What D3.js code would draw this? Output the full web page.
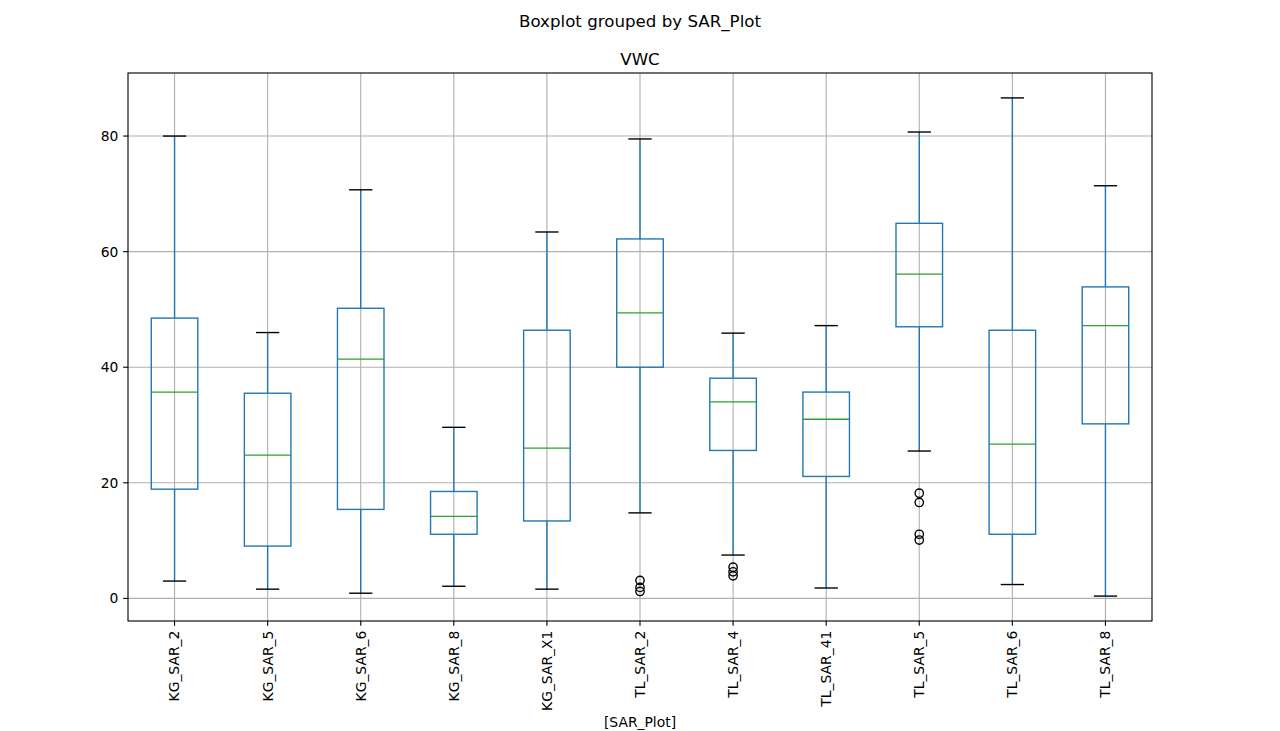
<!DOCTYPE html>
<html>
<head>
<meta charset="utf-8">
<script src="https://cdn.jsdelivr.net/npm/d3@7"></script>
<style>
  html, body { margin: 0; padding: 0; background: #fff; }
  svg { display: block; }
  text { font-family: "DejaVu Sans", sans-serif; fill: #000; }
</style>
</head>
<body>
<svg id="chart" width="1280" height="731"></svg>
<script>
// ---- data ----
const categories = ["KG_SAR_2","KG_SAR_5","KG_SAR_6","KG_SAR_8","KG_SAR_X1","TL_SAR_2","TL_SAR_4","TL_SAR_41","TL_SAR_5","TL_SAR_6","TL_SAR_8"];
const whiskerLow  = [3.0, 1.6, 0.9, 2.1, 1.6, 14.8, 7.5, 1.8, 25.5, 2.4, 0.4];
const q1          = [18.9, 9.05, 15.4, 11.1, 13.4, 40.0, 25.6, 21.1, 47.0, 11.1, 30.2];
const medians     = [35.7, 24.8, 41.4, 14.2, 26.0, 49.4, 34.0, 31.0, 56.1, 26.7, 47.2];
const q3          = [48.5, 35.5, 50.2, 18.5, 46.4, 62.2, 38.1, 35.7, 64.9, 46.4, 53.9];
const whiskerHigh = [80.0, 46.0, 70.7, 29.6, 63.4, 79.5, 45.9, 47.2, 80.7, 86.6, 71.4];
const outliers    = [[], [], [], [], [], [3.1, 1.9, 1.2], [5.4, 4.6, 3.9], [], [18.2, 16.6, 11.1, 10.1], [], []];
const yTicks = [0, 20, 40, 60, 80];
const title = "Boxplot grouped by SAR_Plot";
const subTitle = "VWC";
const xLabel = "[SAR_Plot]";

// ---- layout ----
const svg = d3.select("#chart");
const L = 128, R = 1152, T = 73, B = 621;

const x = d3.scaleLinear().domain([0.5, categories.length + 0.5]).range([L, R]);
const y = d3.scaleLinear().domain([-3.91, 90.91]).range([B, T]);
const step = x(2) - x(1);
const boxW = step * 0.5, capW = step * 0.25;

const BLUE = "#1f77b4", GREEN = "#2ca02c", GRID = "#b0b0b0";
const lw = 1.39;

// grid
const g = svg.append("g");
g.selectAll(".gy").data(yTicks).enter().append("line")
  .attr("x1", L).attr("x2", R).attr("y1", d => y(d)).attr("y2", d => y(d))
  .attr("stroke", GRID).attr("stroke-width", 1.11);
g.selectAll(".gx").data(categories).enter().append("line")
  .attr("x1", (d, i) => x(i + 1)).attr("x2", (d, i) => x(i + 1)).attr("y1", T).attr("y2", B)
  .attr("stroke", GRID).attr("stroke-width", 1.11);

// boxes
const idx = d3.range(categories.length);
const bx = svg.append("g");
// whiskers
bx.selectAll(".wl").data(idx).enter().append("line")
  .attr("x1", i => x(i + 1)).attr("x2", i => x(i + 1))
  .attr("y1", i => y(whiskerLow[i])).attr("y2", i => y(q1[i]))
  .attr("stroke", BLUE).attr("stroke-width", lw);
bx.selectAll(".wh").data(idx).enter().append("line")
  .attr("x1", i => x(i + 1)).attr("x2", i => x(i + 1))
  .attr("y1", i => y(q3[i])).attr("y2", i => y(whiskerHigh[i]))
  .attr("stroke", BLUE).attr("stroke-width", lw);
// caps
bx.selectAll(".cl").data(idx).enter().append("line")
  .attr("x1", i => x(i + 1) - capW / 2).attr("x2", i => x(i + 1) + capW / 2)
  .attr("y1", i => y(whiskerLow[i])).attr("y2", i => y(whiskerLow[i]))
  .attr("stroke", "#000").attr("stroke-width", lw);
bx.selectAll(".ch").data(idx).enter().append("line")
  .attr("x1", i => x(i + 1) - capW / 2).attr("x2", i => x(i + 1) + capW / 2)
  .attr("y1", i => y(whiskerHigh[i])).attr("y2", i => y(whiskerHigh[i]))
  .attr("stroke", "#000").attr("stroke-width", lw);
// box
bx.selectAll(".bx").data(idx).enter().append("rect")
  .attr("x", i => x(i + 1) - boxW / 2).attr("width", boxW)
  .attr("y", i => y(q3[i])).attr("height", i => y(q1[i]) - y(q3[i]))
  .attr("fill", "none").attr("stroke", BLUE).attr("stroke-width", lw);
// median
bx.selectAll(".md").data(idx).enter().append("line")
  .attr("x1", i => x(i + 1) - boxW / 2).attr("x2", i => x(i + 1) + boxW / 2)
  .attr("y1", i => y(medians[i])).attr("y2", i => y(medians[i]))
  .attr("stroke", GREEN).attr("stroke-width", lw);
// outliers
const fl = [];
outliers.forEach((arr, i) => arr.forEach(v => fl.push({i, v})));
bx.selectAll(".fl").data(fl).enter().append("circle")
  .attr("cx", d => x(d.i + 1)).attr("cy", d => y(d.v)).attr("r", 4.17)
  .attr("fill", "none").attr("stroke", "#000").attr("stroke-width", lw);

// frame
svg.append("rect").attr("x", L).attr("y", T).attr("width", R - L).attr("height", B - T)
  .attr("fill", "none").attr("stroke", "#000").attr("stroke-width", 1.11);

// y axis ticks
const ya = svg.append("g");
ya.selectAll("line").data(yTicks).enter().append("line")
  .attr("x1", L - 4.86).attr("x2", L).attr("y1", d => y(d)).attr("y2", d => y(d))
  .attr("stroke", "#000").attr("stroke-width", 1.11);
ya.selectAll("text").data(yTicks).enter().append("text")
  .attr("x", L - 9.7).attr("y", d => y(d)).attr("dy", "0.35em")
  .attr("text-anchor", "end").attr("font-size", "13.89px").text(d => d);

// x axis ticks
const xa = svg.append("g");
xa.selectAll("line").data(categories).enter().append("line")
  .attr("x1", (d, i) => x(i + 1)).attr("x2", (d, i) => x(i + 1)).attr("y1", B).attr("y2", B + 4.86)
  .attr("stroke", "#000").attr("stroke-width", 1.11);
xa.selectAll("text").data(categories).enter().append("text")
  .attr("transform", (d, i) => `translate(${x(i + 1)},${B + 9.7}) rotate(-90)`)
  .attr("text-anchor", "end").attr("dy", "0.35em")
  .attr("font-size", "13.89px").text(d => d);

// titles
svg.append("text").attr("x", 640).attr("y", 27).attr("text-anchor", "middle")
  .attr("font-size", "16.67px").text(title);
svg.append("text").attr("x", 640).attr("y", 65).attr("text-anchor", "middle")
  .attr("font-size", "16.67px").text(subTitle);
svg.append("text").attr("x", 640).attr("y", 727).attr("text-anchor", "middle")
  .attr("font-size", "13.89px").text(xLabel);
</script>
</body>
</html>
